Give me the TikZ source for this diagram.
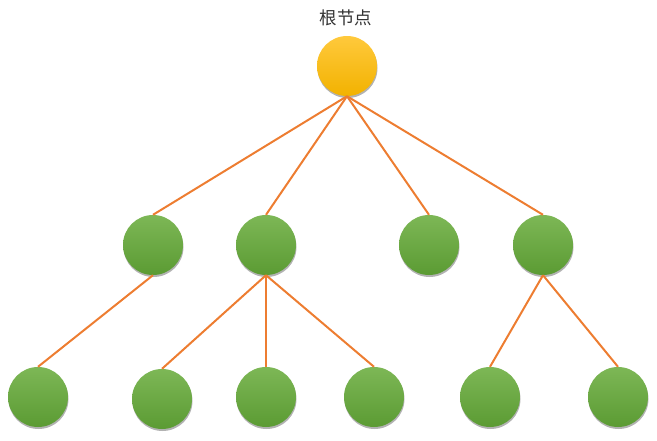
\documentclass[tikz,border=0pt]{standalone}
\usepackage{fontspec}
\newfontfamily\cjk{Noto Sans CJK SC}
\usetikzlibrary{shadows}
\definecolor{linkorange}{HTML}{ED7D31}
\definecolor{greentop}{HTML}{7DB756}
\definecolor{greenbot}{HTML}{5B9B33}
\definecolor{goldtop}{HTML}{FFC93C}
\definecolor{goldbot}{HTML}{F2B200}

\begin{document}
\begin{tikzpicture}[
    x=1pt, y=-1pt,
    ball/.style={circle, minimum size=60pt, inner sep=0pt,
                 drop shadow={shadow xshift=0.5pt, shadow yshift=-2pt, opacity=0.3, fill=black}},
    root/.style={ball, top color=goldtop, bottom color=goldbot},
    leaf/.style={ball, top color=greentop, bottom color=greenbot},
    link/.style={draw=linkorange, line width=2pt},
    lbl/.style={font=\cjk\fontsize{17.5}{20}\selectfont, text=black!80}
]
\useasboundingbox (0,0) rectangle (657,440);

% level 1
\node[root] (root) at (347,66) {};
\node[lbl] (rootlbl) at (346,18) {根节点};

% level 2
\node[leaf] (c1) at (153,245) {};
\node[leaf] (c2) at (266,245) {};
\node[leaf] (c3) at (429,245) {};
\node[leaf] (c4) at (543,245) {};

% level 3
\node[leaf] (g1) at (38,397) {};
\node[leaf] (g2) at (162,399) {};
\node[leaf] (g3) at (266,397) {};
\node[leaf] (g4) at (374,397) {};
\node[leaf] (g5) at (490,397) {};
\node[leaf] (g6) at (618,397) {};

\foreach \c in {c1,c2,c3,c4}
    \draw[link] (root.south) -- (\c.north);
\draw[link] (c1.south) -- (g1.north);
\foreach \g in {g2,g3,g4}
    \draw[link] (c2.south) -- (\g.north);
\foreach \g in {g5,g6}
    \draw[link] (c4.south) -- (\g.north);

\end{tikzpicture}
\end{document}
